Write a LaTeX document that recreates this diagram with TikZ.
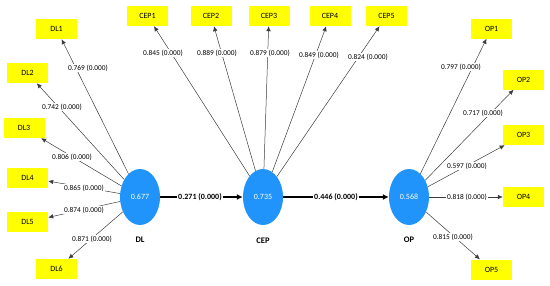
\documentclass[tikz,border=0pt]{standalone}
\usepackage{fontspec}
\setmainfont{Carlito}
\usetikzlibrary{shapes.geometric,arrows.meta}
\definecolor{lvblue}{RGB}{32,148,250}
\definecolor{indyellow}{RGB}{255,255,0}
\definecolor{lineg}{RGB}{60,60,60}
\begin{document}
\begin{tikzpicture}[x=1pt,y=-1pt,
 lv/.style={ellipse,fill=lvblue,draw=none,minimum width=40pt,minimum height=56pt,inner sep=0pt,text=white,font=\fontsize{8}{9}\selectfont},
 ind/.style={rectangle,fill=indyellow,minimum width=41pt,minimum height=20pt,inner sep=0pt,font=\fontsize{8}{9}\selectfont},
 ld/.style={draw=lineg,line width=0.5pt,-{Latex[length=5pt,width=4.5pt]}},
 pc/.style={draw=black,line width=1.4pt,-{Latex[length=6pt,width=6pt]}},
 ldlab/.style={fill=white,inner sep=0.8pt,font=\fontsize{7.4}{8}\selectfont},
 pclab/.style={fill=white,inner sep=1.2pt,font=\bfseries\fontsize{8}{9}\selectfont},
 lvname/.style={font=\bfseries\fontsize{8.5}{10}\selectfont}]
\useasboundingbox (0,0) rectangle (550,285);
% latent variables
\node[lv] (DL) at (140,197) {0.677};
\node[lv] (CEP) at (263,197) {0.735};
\node[lv] (OP) at (409,197) {0.568};
\node[lvname] (DLn) at (140,240) {DL};
\node[lvname] (CEPn) at (263,241) {CEP};
\node[lvname] (OPn) at (409,240) {OP};
% indicators
\node[ind] (DL1) at (56.5,29) {DL1};
\node[ind] (DL2) at (27.5,73) {DL2};
\node[ind] (DL3) at (24,128) {DL3};
\node[ind] (DL4) at (27.5,177.5) {DL4};
\node[ind] (DL5) at (27.5,222) {DL5};
\node[ind] (DL6) at (56.5,269) {DL6};
\node[ind] (CEP1) at (147.5,16) {CEP1};
\node[ind] (CEP2) at (211,16) {CEP2};
\node[ind] (CEP3) at (269,16) {CEP3};
\node[ind] (CEP4) at (330,16) {CEP4};
\node[ind] (CEP5) at (386.5,16) {CEP5};
\node[ind] (OP1) at (491.5,28.5) {OP1};
\node[ind] (OP2) at (523.5,79.5) {OP2};
\node[ind] (OP3) at (523.5,135) {OP3};
\node[ind] (OP4) at (523.5,197) {OP4};
\node[ind] (OP5) at (491.5,269.5) {OP5};
% loadings
\foreach \i in {1,...,6} {\draw[ld] (DL) -- (DL\i);}
\foreach \i in {1,...,5} {\draw[ld] (CEP) -- (CEP\i);}
\foreach \i in {1,...,5} {\draw[ld] (OP) -- (OP\i);}
% path coefficients
\draw[pc] (DL) -- (CEP);
\draw[pc] (CEP) -- (OP);
% labels
\node[ldlab] (l1) at (88,68) {0.769 (0.000)};
\node[ldlab] (l2) at (62,107) {0.742 (0.000)};
\node[ldlab] (l3) at (72,157) {0.806 (0.000)};
\node[ldlab] (l4) at (84,188) {0.865 (0.000)};
\node[ldlab] (l5) at (84,210) {0.874 (0.000)};
\node[ldlab] (l6) at (92,239) {0.871 (0.000)};
\node[ldlab] (c1) at (163,53) {0.845 (0.000)};
\node[ldlab] (c2) at (217,53) {0.889 (0.000)};
\node[ldlab] (c3) at (270,53) {0.879 (0.000)};
\node[ldlab] (c4) at (319,55) {0.849 (0.000)};
\node[ldlab] (c5) at (368,57) {0.824 (0.000)};
\node[ldlab] (o1) at (461,67) {0.797 (0.000)};
\node[ldlab] (o2) at (483,113) {0.717 (0.000)};
\node[ldlab] (o3) at (467,166) {0.597 (0.000)};
\node[ldlab] (o4) at (467,197) {0.818 (0.000)};
\node[ldlab] (o5) at (453,237) {0.815 (0.000)};
\node[pclab] (p1) at (200,197) {0.271 (0.000)};
\node[pclab] (p2) at (336,197) {0.446 (0.000)};
\end{tikzpicture}
\end{document}
